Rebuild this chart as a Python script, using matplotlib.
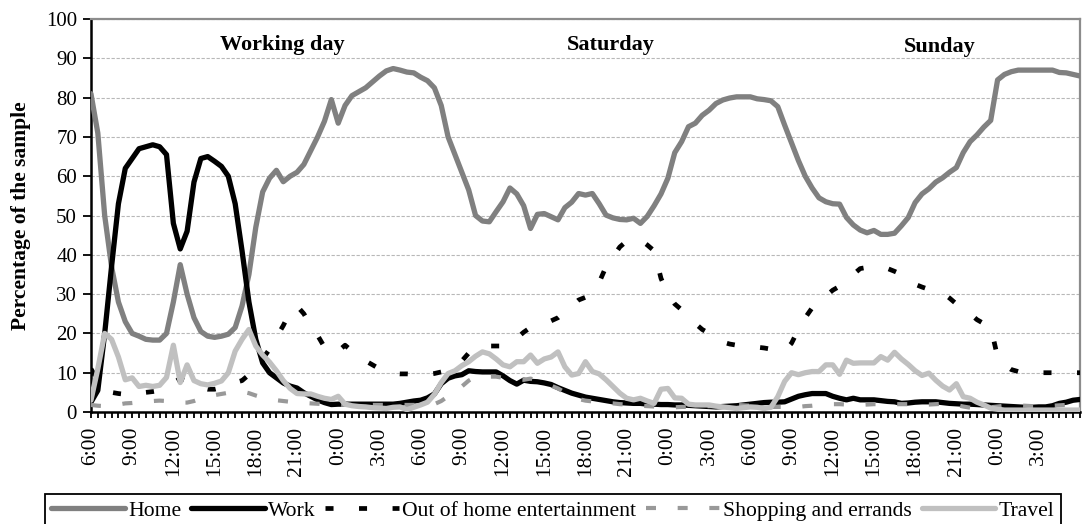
import matplotlib
matplotlib.use("Agg")
import matplotlib.pyplot as plt
import numpy as np

# half-hour values, 6:00 on a working day through 6:00 after Sunday
home = [81, 71, 50, 37, 28, 23, 20, 19.3, 18.5, 18.3, 18.3, 20,
        28, 37.5, 30, 24, 20.5, 19.3, 19, 19.3, 19.8, 21.5, 27, 35,
        47, 56, 59.5, 61.5, 58.6, 60, 61, 63, 66.5, 70, 74, 79.5,
        73.5, 78, 80.5, 81.5, 82.5, 84, 85.5, 86.8, 87.4, 87, 86.5, 86.3,
        85.2, 84.3, 82.5, 78, 70, 65.5, 61, 56.5, 50, 48.6, 48.4, 51,
        53.5, 57, 55.5, 52.5, 46.7, 50.3, 50.5, 49.7, 48.9, 52, 53.4, 55.6,
        55.2, 55.6, 53, 50.1, 49.4, 49, 48.9, 49.3, 48, 49.8, 52.5, 55.5,
        59.5, 66, 68.8, 72.6, 73.5, 75.5, 76.8, 78.5, 79.4, 79.9, 80.2, 80.2,
        80.2, 79.7, 79.5, 79.2, 77.7, 73, 68.5, 64, 60, 57, 54.5, 53.5,
        53, 52.9, 49.5, 47.6, 46.3, 45.6, 46.2, 45.2, 45.2, 45.5, 47.4, 49.5,
        53.3, 55.5, 56.8, 58.5, 59.6, 61, 62.2, 66, 68.8, 70.5, 72.5, 74.2,
        84.5, 85.9, 86.6, 87, 87, 87, 87, 87, 87, 86.4, 86.3, 85.9,
        85.5]

work = [2.5, 5.5, 20, 37, 53, 62, 64.5, 67, 67.5, 68, 67.5, 65.5,
        48, 41.5, 46, 58.5, 64.5, 65, 63.8, 62.5, 60, 53, 41, 28,
        18.5, 12.5, 10, 8.7, 7.4, 6.6, 6.1, 4.9, 4, 3.1, 2.4, 1.9,
        2, 2, 2, 2, 2, 2, 2, 2, 2, 2.2, 2.5, 2.8,
        3, 3.6, 4.6, 7.2, 8.6, 9.2, 9.5, 10.5, 10.3, 10.2, 10.2, 10.2,
        9.2, 8, 7.1, 8.1, 7.8, 7.7, 7.4, 7, 6.2, 5.5, 4.8, 4.3,
        3.8, 3.5, 3.2, 2.9, 2.6, 2.4, 2.3, 2.2, 2.2, 2, 2, 1.9,
        1.9, 1.8, 1.8, 1.7, 1.6, 1.5, 1.4, 1.3, 1.4, 1.5, 1.6, 1.8,
        2, 2.2, 2.4, 2.5, 2.5, 2.6, 3.3, 4, 4.4, 4.7, 4.7, 4.7,
        4, 3.5, 3.1, 3.5, 3.1, 3.1, 3.1, 2.9, 2.7, 2.6, 2.2, 2.3,
        2.5, 2.6, 2.6, 2.6, 2.4, 2.2, 2.1, 2, 2, 1.9, 1.8, 1.7,
        1.6, 1.5, 1.4, 1.3, 1.2, 1.2, 1.3, 1.3, 1.6, 2.2, 2.5, 3,
        3.2]

entertainment = [11, 8, 6, 5, 4.7, 4.5, 4.2, 4.5, 5, 5.2, 5.5, 6.5,
                 7.5, 8.5, 7.8, 6.8, 6.2, 5.8, 5.8, 6.2, 7, 7.5, 8, 9.5,
                 11.5, 13.5, 16, 19, 22, 25.5, 27, 25, 22, 19.5, 16.5, 14.8,
                 15.5, 17, 15.5, 14, 13, 12, 11, 10.3, 9.8, 9.7, 9.7, 9.6,
                 9.6, 9.6, 9.8, 10.2, 10.8, 11.5, 13, 15, 16.5, 16.8, 16.8, 16.8,
                 16.8, 17.5, 18.8, 20.3, 21.5, 22, 22.5, 23.2, 24, 25.5, 27, 28.5,
                 29.2, 30.2, 33, 37, 39.5, 42, 43.5, 44, 43.8, 42.5, 41, 34,
                 30, 27.5, 26, 24.5, 22.5, 21, 20, 18.8, 17.8, 17.3, 17, 16.8,
                 16.5, 16.5, 16.3, 16, 15.7, 15.5, 17.5, 21, 24, 26.5, 28.5, 29.5,
                 31, 32, 33.5, 35, 36.5, 36.8, 37, 37, 36.5, 35.8, 35, 33.5,
                 32.5, 31.8, 31.2, 30.8, 30.3, 29, 27.5, 26, 25, 23.5, 22.5, 21.7,
                 14, 12, 10.8, 10.3, 10.2, 10.1, 10, 10, 10, 10, 10, 10,
                 10]

shopping = [1.8, 1.6, 1.5, 1.6, 1.9, 2.2, 2.3, 2.5, 2.6, 2.8, 2.9, 2.8,
            2.6, 2.4, 2.4, 2.8, 3.4, 3.9, 4.3, 4.6, 4.9, 5.1, 5.2, 4.8,
            4.2, 3.7, 3.3, 3, 2.8, 2.6, 2.5, 2.3, 2.2, 2.1, 2, 1.9,
            1.9, 1.8, 1.8, 1.8, 1.8, 1.8, 1.8, 1.8, 1.8, 1.8, 1.8, 1.8,
            1.8, 1.8, 2, 2.8, 4, 5.2, 6.5, 8, 9, 9, 9, 9,
            8.7, 8.5, 8.3, 8.2, 8.5, 8, 7.3, 6.7, 6, 5, 4.2, 3.3,
            2.9, 2.7, 2.5, 2.3, 2.2, 2, 1.9, 1.7, 1.6, 1.5, 1.4, 1.3,
            1.2, 1.2, 1.3, 1.3, 1.4, 1.4, 1.5, 1.5, 1.6, 1.7, 1.8, 1.7,
            1.6, 1.5, 1.4, 1.3, 1.3, 1.3, 1.3, 1.3, 1.5, 1.6, 1.8, 1.9,
            2, 2, 1.9, 1.8, 1.8, 1.9, 2, 2, 2, 2, 2, 2,
            2, 1.9, 1.9, 2, 2.1, 2.2, 1.8, 1.4, 1.1, 0.9, 1, 1.2,
            1.4, 1.6, 1.8, 1.7, 1.6, 1.5, 1.5, 1.5, 1.6, 1.7, 1.8, 1.8,
            1.8]

travel = [3, 11, 20, 18.5, 14, 8.2, 8.7, 6.5, 6.8, 6.5, 6.8, 8.8,
          17, 7.5, 12, 8, 7.2, 6.9, 7.3, 7.9, 10, 15.5, 18.5, 21,
          16.8, 14.5, 12.7, 10.5, 8, 6, 4.7, 4.6, 4.6, 4, 3.5, 3.2,
          4, 2, 1.6, 1.4, 1.3, 1.1, 1, 0.9, 1.2, 1.3, 0.6, 1.2,
          1.8, 2.5, 4.5, 7.5, 9.8, 10.5, 11.8, 12.8, 14.2, 15.3, 14.8, 13.5,
          12, 11.5, 12.8, 12.8, 14.5, 12.4, 13.5, 14, 15.3, 11.5, 9.4, 9.8,
          12.8, 10.3, 9.7, 8.2, 6.5, 4.8, 3.5, 3.1, 3.5, 2.8, 2.2, 5.8,
          6, 3.6, 3.5, 2, 1.8, 1.8, 1.8, 1.5, 1.3, 1.1, 0.9, 1.1,
          1.3, 1.2, 0.9, 1.2, 3.9, 7.8, 10, 9.5, 10, 10.3, 10.3, 12,
          12, 9.6, 13.2, 12.4, 12.5, 12.5, 12.5, 14.1, 13.2, 15.2, 13.5, 12.1,
          10.5, 9.3, 9.9, 8.1, 6.6, 5.6, 7.2, 3.9, 3.5, 2.5, 1.8, 1,
          0.7, 0.5, 0.5, 0.5, 0.5, 0.5, 0.5, 0.5, 0.5, 0.5, 0.5, 0.5,
          0.5]

tick_labels = ["6:00", "9:00", "12:00", "15:00", "18:00", "21:00", "0:00", "3:00"] * 3
day_names = ["Working day", "Saturday", "Sunday"]


def main():
    plt.rcParams["font.family"] = ["Liberation Serif", "DejaVu Serif"]

    fig = plt.figure(figsize=(10.84, 5.24), dpi=100)
    ax = fig.add_axes([0.0839, 0.2137, 0.9124, 0.75])
    x = np.arange(len(home))

    solid = dict(solid_capstyle="round", solid_joinstyle="round")
    ax.plot(x, home, color="#808080", lw=3.8, label="Home", zorder=3, **solid)
    ax.plot(x, work, color="black", lw=3.8, label="Work", zorder=4, **solid)
    ax.plot(x, entertainment, color="black", lw=3.4, linestyle=(0, (1.7, 5.4)),
            label="Out of home entertainment", zorder=5)
    ax.plot(x, shopping, color="#999999", lw=3.0, linestyle=(0, (2.4, 5.2)),
            label="Shopping and errands", zorder=6)
    ax.plot(x, travel, color="#c0c0c0", lw=3.8, label="Travel", zorder=7, **solid)

    ax.set_xlim(0, len(home) - 1)
    ax.set_ylim(0, 100)
    ax.set_yticks(range(0, 101, 10))
    ax.set_xticks(range(0, len(home) - 1, 6))
    ax.set_xticks(range(len(home)), minor=True)
    ax.set_xticklabels(tick_labels, rotation=90)
    ax.tick_params(axis="x", which="both", direction="out", length=4.5, width=1.3, pad=6, labelsize=15.5)
    ax.tick_params(axis="y", direction="out", length=6, width=1.3, pad=4, labelsize=15)

    ax.grid(axis="y", color="#b8b8b8", lw=0.8, linestyle=(0, (3, 1.5)))
    ax.set_axisbelow(True)
    for side in ["left", "bottom"]:
        ax.spines[side].set_linewidth(1.8)
        ax.spines[side].set_color("black")
    for side in ["top", "right"]:
        ax.spines[side].set_linewidth(1.6)
        ax.spines[side].set_color("#8c8c8c")

    ax.set_ylabel("Percentage of the sample", fontsize=15.5, fontweight="bold", labelpad=11)

    for name, xpos, ypos in zip(day_names, [27.8, 75.7, 123.5], [93.4, 93.4, 92.9]):
        ax.text(xpos, ypos, name, ha="center", va="center", fontsize=16, fontweight="bold")

    leg = fig.legend(loc="upper left", bbox_to_anchor=(0.0415, 0.0573), ncol=5,
                     fontsize=15.6, handlelength=3.4, handletextpad=0.15, columnspacing=0.45,
                     borderaxespad=0, borderpad=0.3, fancybox=False, framealpha=1)
    leg.get_frame().set_edgecolor("black")
    leg.get_frame().set_linewidth(1.3)

    fig.savefig("out.png", dpi=100)


if __name__ == "__main__":
    main()
